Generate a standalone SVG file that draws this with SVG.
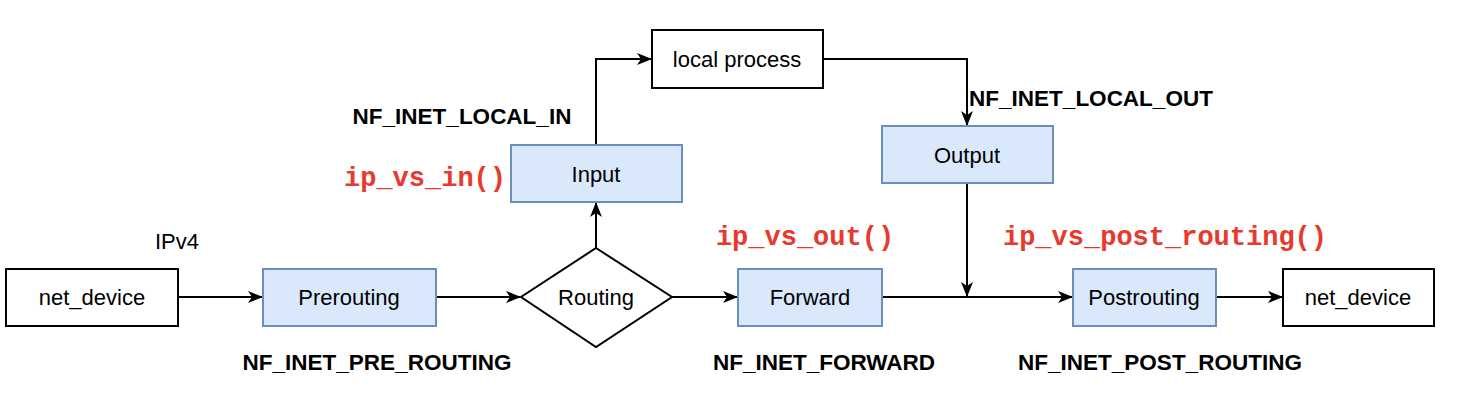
<svg xmlns="http://www.w3.org/2000/svg" width="1472" height="412" viewBox="0 0 1472 412">
<defs>
<style>
.box{fill:#ffffff;stroke:#000000;stroke-width:2}
.hook{fill:#dae8fc;stroke:#6c8ebf;stroke-width:2}
.lbl{font-family:"Liberation Sans",Arial,sans-serif;font-size:22px;fill:#000;text-anchor:middle}
.hk{font-family:"Liberation Sans",Arial,sans-serif;font-size:22.5px;font-weight:bold;fill:#000;text-anchor:middle}
.fn{font-family:"Liberation Mono","Courier New",monospace;font-size:27px;font-weight:bold;fill:#e8392c;text-anchor:middle}
.edge{fill:none;stroke:#000;stroke-width:2;marker-end:url(#arr)}
</style>
<marker id="arr" viewBox="0 0 15 12" refX="14" refY="6" markerWidth="15" markerHeight="12" markerUnits="userSpaceOnUse" orient="auto">
<path d="M0,0 L15,6 L0,12 L4,6 z" fill="#000"/>
</marker>
</defs>
<rect width="1472" height="412" fill="#ffffff"/>

<g id="connectors">
<path class="edge" d="M178,297 L262,297"/>
<path class="edge" d="M436,297 L520,297"/>
<path class="edge" d="M672,297 L737,297"/>
<path class="edge" d="M596,248 L596,203"/>
<path class="edge" d="M596,145 L596,59 L651,59"/>
<path class="edge" d="M823,59 L967,59 L967,125"/>
<path class="edge" d="M967,183 L967,296"/>
<path class="edge" d="M882,297 L1072,297"/>
<path class="edge" d="M1216,297 L1282,297"/>
</g>

<g id="net_device_in">
<rect class="box" x="6" y="269" width="172" height="57"/>
<text class="lbl" x="92" y="305">net_device</text>
</g>
<g id="prerouting">
<rect class="hook" x="263" y="269" width="173" height="57"/>
<text class="lbl" x="349" y="305">Prerouting</text>
</g>
<g id="routing">
<path class="box" d="M596,248 L672,297 L596,347 L521,297 Z"/>
<text class="lbl" x="596" y="305">Routing</text>
</g>
<g id="input">
<rect class="hook" x="511" y="145" width="171" height="57"/>
<text class="lbl" x="596" y="182">Input</text>
</g>
<g id="local_process">
<rect class="box" x="652" y="30" width="171" height="58"/>
<text class="lbl" x="737" y="67">local process</text>
</g>
<g id="output">
<rect class="hook" x="882" y="126" width="171" height="57"/>
<text class="lbl" x="967" y="163">Output</text>
</g>
<g id="forward">
<rect class="hook" x="738" y="269" width="144" height="57"/>
<text class="lbl" x="810" y="305">Forward</text>
</g>
<g id="postrouting">
<rect class="hook" x="1073" y="269" width="143" height="57"/>
<text class="lbl" x="1144" y="305">Postrouting</text>
</g>
<g id="net_device_out">
<rect class="box" x="1283" y="269" width="151" height="57"/>
<text class="lbl" x="1358" y="305">net_device</text>
</g>

<g id="labels">
<text class="lbl" x="177" y="249">IPv4</text>
<text class="hk" x="377" y="370">NF_INET_PRE_ROUTING</text>
<text class="hk" x="462" y="124">NF_INET_LOCAL_IN</text>
<text class="hk" x="1091" y="106">NF_INET_LOCAL_OUT</text>
<text class="hk" x="824" y="370">NF_INET_FORWARD</text>
<text class="hk" x="1160" y="370">NF_INET_POST_ROUTING</text>
<text class="fn" x="425" y="186">ip_vs_in()</text>
<text class="fn" x="805" y="245">ip_vs_out()</text>
<text class="fn" x="1165" y="245">ip_vs_post_routing()</text>
</g>
</svg>
